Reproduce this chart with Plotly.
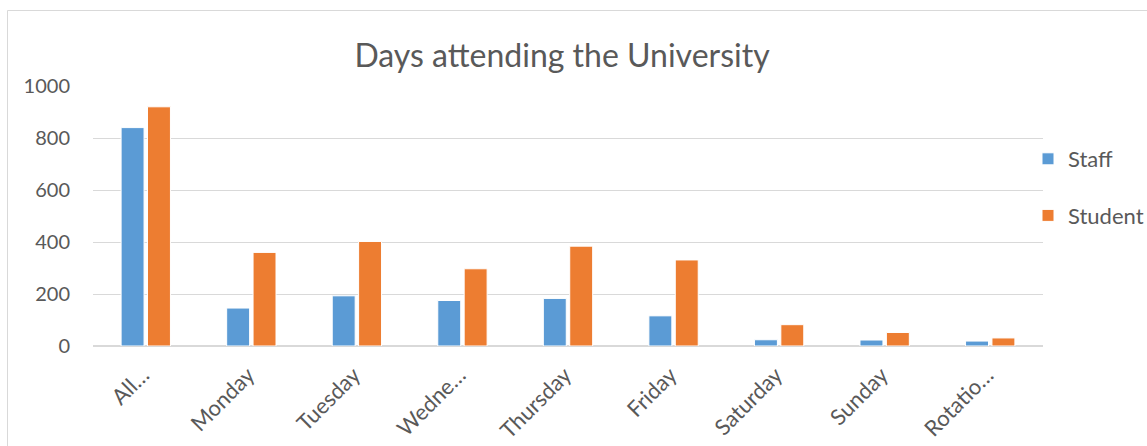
import plotly.graph_objects as go

categories = ["All…", "Monday", "Tuesday", "Wedne…", "Thursday", "Friday", "Saturday", "Sunday", "Rotatio…"]
staff = [840, 146, 193, 175, 183, 116, 24, 23, 19]
student = [920, 360, 402, 297, 384, 331, 82, 52, 31]
y_ticks = [0, 200, 400, 600, 800, 1000]

FONT = "Lato"
GREY = "#595959"

fig = go.Figure()
fig.add_trace(go.Bar(name="Staff", x=categories, y=staff, marker=dict(color="#5B9BD5", line=dict(color="white", width=1)), legendgroup="a"))
fig.add_trace(go.Bar(name="Student", x=categories, y=student, marker=dict(color="#ED7D31", line=dict(color="white", width=1)), legendgroup="b"))

W, H = 1147, 446
L, R, T, B = 93, 104, 86, 100

pw = W - L - R
ph = H - T - B
def px_to_paper_x(px):
    return (px - L) / pw
def px_to_paper_y(py):
    return 1 - (py - T) / ph

fig.update_layout(
    width=W, height=H,
    margin=dict(l=L, r=R, t=T, b=B, autoexpand=False),
    paper_bgcolor="white", plot_bgcolor="white",
    barmode="group", bargap=0.5, bargroupgap=0.13,
    font=dict(family=FONT, color=GREY, size=20),
    title=dict(text="Days attending the University", x=0.49, xanchor="center", y=1 - 56 / H, yanchor="middle",
               font=dict(family=FONT, size=32, color=GREY)),
    xaxis=dict(tickangle=-45, showgrid=False, showline=False, ticks="", ticklabelstandoff=11,
               ticklabelshift=-3, tickfont=dict(size=22, color=GREY)),
    yaxis=dict(range=[0, 1000], tickvals=y_ticks, showgrid=True, gridcolor="#D9D9D9", gridwidth=1,
               zeroline=True, zerolinecolor="#D9D9D9", zerolinewidth=2, showline=False, ticks="",
               ticklabelstandoff=22, tickfont=dict(size=20, color=GREY)),
    legend=dict(x=px_to_paper_x(1028), xanchor="left", y=px_to_paper_y(138), yanchor="top",
                bgcolor="rgba(0,0,0,0)", tracegroupgap=25, traceorder="grouped",
                font=dict(size=22, color=GREY)),
    showlegend=True,
)

fig.add_shape(type="line", xref="paper", yref="paper", x0=px_to_paper_x(7.5), x1=px_to_paper_x(W + 5),
              y0=px_to_paper_y(10.5), y1=px_to_paper_y(10.5), line=dict(color="#D9D9D9", width=1))
fig.add_shape(type="line", xref="paper", yref="paper", x0=px_to_paper_x(7.5), x1=px_to_paper_x(7.5),
              y0=px_to_paper_y(10.5), y1=px_to_paper_y(H + 5), line=dict(color="#D9D9D9", width=1))

fig.write_html("out.html")
